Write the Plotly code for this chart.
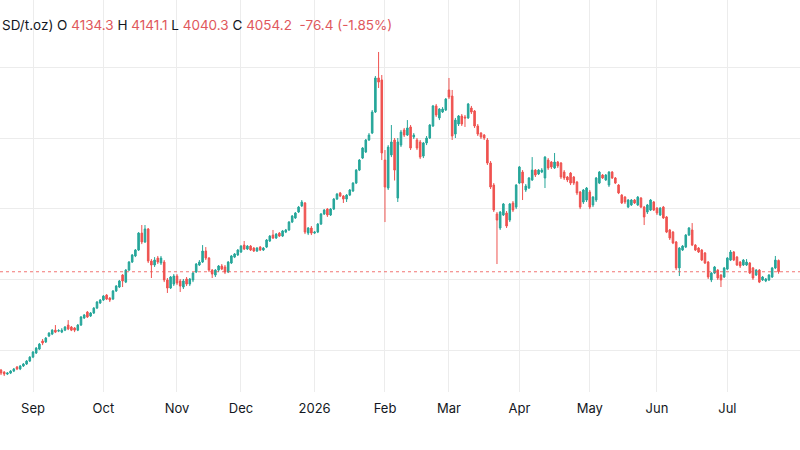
import pandas as pd
import plotly.graph_objects as go

# ---- data (daily XAU/USD candles, weekdays only) ----
dates = pd.bdate_range("2025-08-18", periods=244)

opens = [3358,3344,3330,3337,3351,3380,3366,3387,3401,3422,
 3450,3479,3507,3564,3557,3599,3613,3641,3634,3627,
 3641,3677,3663,3656,3641,3677,3727,3769,3741,3762,
 3797,3833,3854,3889,3868,3861,3918,3946,4031,3981,
 4066,4123,4166,4208,4328,4265,4357,4130,4102,4151,
 4116,4123,3996,3939,3967,4024,3989,3946,4003,3967,
 3996,4052,4102,4123,4201,4151,4066,4031,4066,4095,
 4088,4052,4116,4158,4173,4194,4243,4215,4236,4222,
 4201,4229,4208,4229,4272,4314,4293,4328,4307,4335,
 4350,4406,4435,4477,4520,4541,4328,4364,4328,4335,
 4392,4463,4498,4456,4498,4569,4612,4590,4569,4597,
 4626,4682,4774,4859,4902,4987,5036,5185,5426,5412,
 4845,4647,4881,4987,4576,4951,5058,5022,5079,5008,
 4987,4973,4873,4966,5001,5086,5228,5143,5185,5199,
 5341,5298,5029,5100,5157,5150,5143,5213,5192,5086,
 5036,5022,4987,4824,4668,4463,4364,4456,4470,4420,
 4541,4512,4682,4760,4633,4647,4704,4774,4746,4760,
 4718,4845,4831,4789,4831,4824,4760,4725,4753,4725,
 4689,4619,4548,4562,4619,4527,4562,4682,4739,4704,
 4668,4760,4718,4668,4597,4583,4512,4527,4562,4527,
 4576,4512,4477,4491,4548,4505,4456,4512,4442,4350,
 4335,4265,4081,4208,4229,4314,4350,4243,4222,4208,
 4187,4123,3996,4045,4066,4031,4017,4073,4137,4194,
 4158,4123,4102,4102,4116,4081,4031,4066,3996,3989,
 3996,4017,4081,4134.3]

highs = [3366,3351,3344,3358,3373,3387,3394,3408,3429,3457,
 3493,3521,3550,3578,3592,3627,3648,3677,3648,3655,
 3670,3712,3670,3663,3684,3741,3755,3776,3769,3804,
 3847,3861,3889,3896,3875,3925,3960,3996,4038,4073,
 4130,4180,4215,4335,4385,4385,4364,4144,4158,4166,
 4166,4137,4010,4024,4038,4038,4003,4003,4017,4010,
 4052,4116,4137,4243,4229,4158,4073,4073,4102,4109,
 4102,4130,4173,4187,4215,4243,4272,4243,4243,4229,
 4229,4236,4229,4286,4314,4350,4328,4335,4350,4357,
 4413,4456,4477,4520,4562,4548,4371,4378,4343,4399,
 4470,4498,4505,4505,4576,4612,4619,4597,4604,4640,
 4689,4781,4852,4937,4994,5036,5199,5440,5610,5447,
 4916,4951,5093,5001,5001,5058,5072,5128,5093,5036,
 5001,4987,4973,5015,5100,5235,5242,5213,5220,5284,
 5426,5341,5143,5164,5171,5164,5249,5228,5199,5100,
 5043,5029,5001,4838,4682,4477,4484,4541,4484,4541,
 4555,4675,4803,4774,4675,4725,4866,4781,4781,4788,
 4873,4859,4838,4895,4838,4831,4774,4732,4760,4732,
 4697,4626,4640,4654,4633,4590,4725,4767,4746,4746,
 4767,4767,4725,4675,4604,4590,4569,4569,4569,4590,
 4583,4520,4534,4569,4555,4512,4512,4520,4449,4357,
 4343,4272,4229,4243,4321,4371,4399,4250,4229,4215,
 4194,4130,4052,4095,4073,4038,4088,4158,4208,4201,
 4166,4130,4144,4144,4123,4088,4073,4073,4024,4010,
 4038,4088,4166,4141.1]

lows = [3323,3316,3323,3330,3344,3358,3358,3380,3394,3415,
 3443,3472,3500,3535,3550,3592,3606,3620,3627,3620,
 3634,3641,3634,3627,3634,3670,3720,3727,3734,3755,
 3790,3826,3847,3854,3840,3854,3911,3939,3946,3974,
 4059,4116,4158,4201,4250,4258,4116,4010,4088,4109,
 4102,3981,3904,3932,3953,3960,3911,3932,3953,3953,
 3981,4045,4095,4116,4137,4052,4010,4017,4052,4066,
 4038,4045,4109,4151,4166,4187,4208,4208,4201,4194,
 4194,4201,4201,4222,4265,4286,4286,4300,4300,4328,
 4343,4399,4428,4470,4512,4321,4314,4314,4321,4328,
 4385,4456,4442,4449,4491,4562,4583,4541,4548,4590,
 4619,4675,4767,4852,4895,4980,5029,5178,5355,4845,
 4406,4633,4866,4700,4548,4937,5008,5015,4916,4994,
 4916,4852,4859,4951,4994,5079,5150,5128,5178,5192,
 5277,4987,5001,5086,5086,5079,5136,5171,5072,5015,
 4994,4987,4810,4640,4477,4109,4350,4449,4364,4406,
 4477,4498,4675,4562,4619,4640,4697,4725,4739,4753,
 4647,4775,4782,4782,4789,4711,4704,4689,4668,4668,
 4597,4498,4534,4548,4498,4512,4548,4675,4711,4697,
 4654,4711,4675,4604,4534,4534,4505,4520,4534,4520,
 4505,4385,4463,4484,4484,4456,4449,4428,4328,4279,
 4250,4066,4024,4201,4222,4307,4236,4201,4187,4130,
 4109,4003,3981,4038,3996,3946,4010,4066,4130,4130,
 4095,4081,4095,4095,4038,3996,4024,3974,3989,3981,
 3989,4010,4073,4040.3]

closes = [3337,3330,3337,3351,3366,3366,3387,3401,3422,3450,
 3486,3514,3542,3550,3585,3620,3641,3627,3638,3641,
 3663,3649,3641,3641,3677,3734,3748,3734,3762,3797,
 3840,3854,3882,3861,3854,3918,3953,3989,3989,4066,
 4123,4173,4208,4328,4265,4357,4130,4102,4137,4123,
 4151,3996,3939,4017,4024,3974,3953,3989,3967,4003,
 4045,4109,4123,4201,4151,4066,4038,4066,4095,4073,
 4052,4123,4166,4180,4208,4236,4215,4236,4208,4201,
 4222,4208,4222,4279,4307,4293,4321,4307,4343,4350,
 4406,4449,4470,4512,4548,4335,4364,4328,4335,4392,
 4463,4491,4456,4498,4569,4604,4590,4569,4597,4633,
 4682,4774,4845,4930,4987,5022,5185,5426,5397,4895,
 4654,4937,4973,4774,4973,5043,5022,5072,4930,5022,
 4930,4866,4966,5001,5093,5228,5164,5206,5206,5277,
 5291,5015,5128,5157,5100,5143,5242,5185,5086,5029,
 5008,5001,4824,4654,4491,4420,4477,4534,4378,4534,
 4491,4668,4796,4682,4661,4718,4774,4739,4774,4774,
 4866,4789,4796,4831,4803,4725,4718,4704,4682,4682,
 4612,4512,4633,4647,4512,4583,4718,4760,4718,4739,
 4760,4718,4682,4612,4541,4548,4562,4562,4541,4583,
 4512,4442,4527,4562,4491,4470,4505,4435,4335,4293,
 4258,4081,4222,4236,4314,4364,4243,4208,4194,4137,
 4116,4017,4045,4088,4010,3996,4081,4151,4194,4137,
 4102,4095,4137,4123,4045,4010,4066,3981,4017,4003,
 4031,4081,4137,4054.2]

tick_dates = ["2025-09-01", "2025-10-01", "2025-11-03", "2025-12-01", "2026-01-01",
              "2026-02-02", "2026-03-02", "2026-04-01", "2026-05-01", "2026-06-01", "2026-07-01"]
tick_labels = ["Sep", "Oct", "Nov", "Dec", "2026", "Feb", "Mar", "Apr", "May", "Jun", "Jul"]
grid_prices = [3500, 4000, 4500, 5000, 5500]
last_close = closes[-1]

UP = "#26a69a"
DOWN = "#ef5350"
GRID = "#ececec"

fig = go.Figure(go.Candlestick(
    x=dates, open=opens, high=highs, low=lows, close=closes,
    increasing=dict(line=dict(color=UP, width=1), fillcolor=UP),
    decreasing=dict(line=dict(color=DOWN, width=1), fillcolor=DOWN),
    whiskerwidth=0, hoverinfo="skip", showlegend=False,
))

fig.add_hline(y=last_close, line=dict(color=DOWN, width=1, dash="dot"), opacity=0.8)

val = lambda s: f"<span style='color:#e0585c'>{s}</span>"
header = ("SD/t.oz) O " + val("4134.3") + " H " + val("4141.1") + " L " + val("4040.3")
          + " C " + val("4054.2") + "\u00a0 " + val("-76.4 (-1.85%)"))
fig.add_annotation(xref="paper", yref="paper", x=0, y=1 - 25 / 392, xanchor="left",
                   yanchor="middle", text=header, showarrow=False,
                   font=dict(family="Inter, Liberation Sans, sans-serif", size=13.5, color="#131722"))

fig.update_layout(
    width=800, height=450,
    margin=dict(l=0, r=0, t=0, b=58),
    paper_bgcolor="white", plot_bgcolor="white",
    xaxis=dict(
        type="date",
        rangebreaks=[dict(bounds=["sat", "mon"])],
        range=["2025-08-15 16:30", "2026-07-31 16:48"],
        rangeslider=dict(visible=False),
        tickmode="array", tickvals=tick_dates, ticktext=tick_labels,
        showgrid=True, gridcolor=GRID, gridwidth=1,
        zeroline=False, showline=False, ticks="", ticklabelstandoff=7,
        tickfont=dict(family="Inter, Liberation Sans, sans-serif", size=13, color="#131722"),
    ),
    yaxis=dict(
        range=[3203, 5978],
        tickmode="array", tickvals=grid_prices,
        showticklabels=False, showgrid=True, gridcolor=GRID, gridwidth=1,
        zeroline=False, showline=False, ticks="",
    ),
)

fig.write_html("out.html")
